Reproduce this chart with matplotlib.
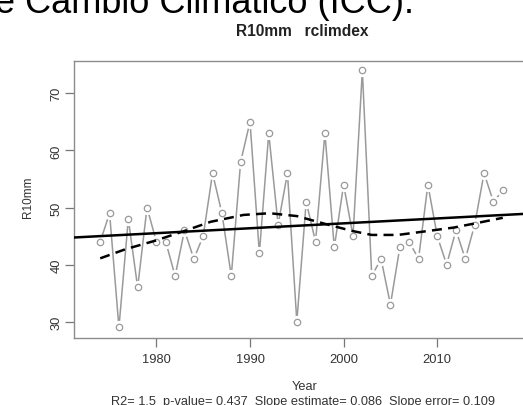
import matplotlib
matplotlib.use("Agg")
import matplotlib.pyplot as plt
import numpy as np

plt.rcParams['font.family'] = ['Liberation Sans', 'DejaVu Sans']

years = list(range(1974, 2018))
r10mm = [44, 49, 29, 48, 36, 50, 44, 44, 38, 46, 41, 45, 56, 49, 38, 58, 65, 42, 63, 47,
         56, 30, 51, 44, 63, 43, 54, 45, 74, 38, 41, 33, 43, 44, 41, 54, 45, 40, 46, 41,
         47, 56, 51, 53]

# smoothed (loess) curve
smooth_years = [1974, 1976.7, 1979.9, 1983, 1985.8, 1989.3, 1992.1, 1995, 1998.1,
                2000.9, 2003, 2005.8, 2008.6, 2011.8, 2014.6, 2017]
smooth_vals = [41.1, 42.7, 44.2, 45.9, 47.5, 48.7, 49.0, 48.5, 47.1,
               45.9, 45.2, 45.2, 45.8, 46.5, 47.4, 48.2]

# linear trend
trend_slope = 0.086
trend_at_1971 = 44.75

xticks = [1980, 1990, 2000, 2010]
yticks = [30, 40, 50, 60, 70]
title = "R10mm   rclimdex"
xlabel = "Year"
ylabel = "R10mm"
stats = "R2= 1.5  p-value= 0.437  Slope estimate= 0.086  Slope error= 0.109"
header = "e Cambio Climático (ICC)."

W, H = 523, 406
fig = plt.figure(figsize=(W / 100, H / 100), dpi=100)
fig.patch.set_facecolor('white')

ax = fig.add_axes([74 / W, 1 - 339.3 / H, (529 - 74) / W, (339.3 - 62.3) / H])
xlim = (1971.2, 2019.8)
ax.set_xlim(*xlim)
ax.set_ylim(27.1, 75.6)

gray = '#9a9a9a'
ax.plot(years, r10mm, color=gray, lw=1.1, zorder=1)
ax.plot(years, r10mm, ls='none', marker='o', ms=8.5, mfc='white', mec='white', zorder=2)
ax.plot(years, r10mm, ls='none', marker='o', ms=4.6, mfc='white', mec=gray, mew=0.9, zorder=3)

tx = np.array(xlim)
ax.plot(tx, trend_at_1971 + trend_slope * (tx - 1971.2), color='black', lw=1.8, zorder=4)
ax.plot(smooth_years, smooth_vals, color='black', lw=1.8, ls=(0, (4, 2.5)), zorder=4)

for s in ax.spines.values():
    s.set_color('#8c8c8c')
    s.set_linewidth(1.0)

ax.set_xticks(xticks)
ax.set_yticks(yticks)
ax.set_xticklabels([str(v) for v in xticks], fontsize=9.3)
ax.set_yticklabels([str(v) for v in yticks], fontsize=9.3, rotation=90, va='center')
ax.tick_params(axis='both', colors='#777777', labelcolor='#333333', length=6.5, width=0.9)
ax.tick_params(axis='x', pad=4)
ax.tick_params(axis='y', pad=2)

fig.text(302 / W, 1 - 31.5 / H, title, ha='center', va='center',
         fontsize=11.2, fontweight='bold', color='#222222')
fig.text(28 / W, 1 - 197 / H, ylabel, ha='center', va='center', rotation=90,
         fontsize=8.5, color='#333333')
fig.text(305 / W, 1 - 387.5 / H, xlabel, ha='center', va='center',
         fontsize=9.2, color='#333333')
fig.text(303 / W, 1 - 402 / H, stats, ha='center', va='center',
         fontsize=9.2, color='#333333')
fig.text(-5 / W, 1 - 13 / H, header, ha='left', va='baseline',
         fontsize=26, color='black')

fig.savefig('out.png', dpi=100, facecolor='white')
